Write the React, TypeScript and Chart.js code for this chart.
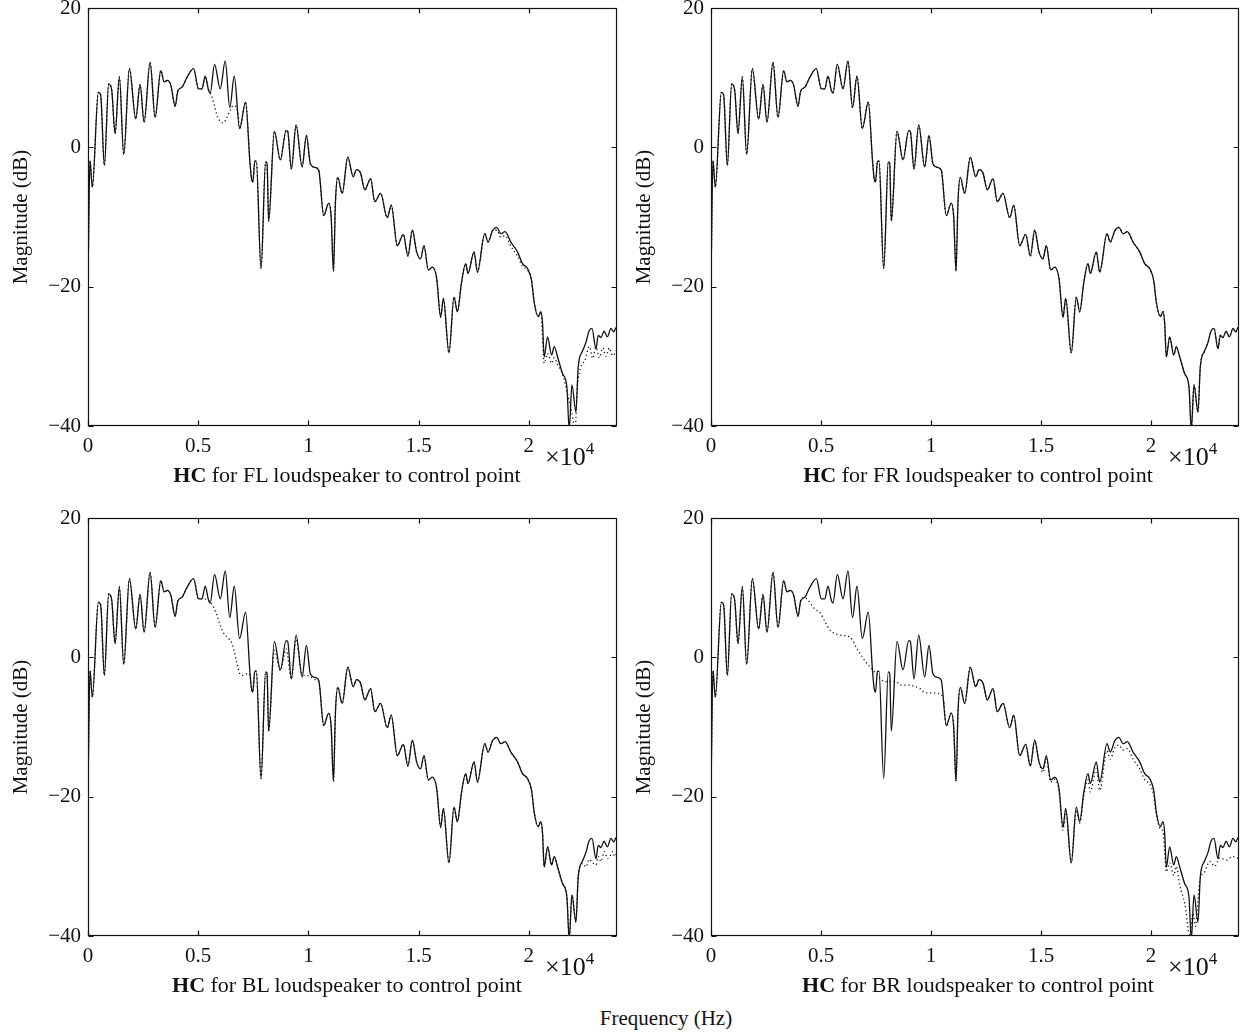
import React, { useEffect, useRef } from 'react';
import { Chart, registerables } from 'chart.js';

Chart.register(...registerables);

// Frequency (Hz) of the sampled points of the reference response
const freqHz = [
  0, 90, 195, 470, 575, 742, 939, 1076, 1227, 1424, 1621, 1879, 2167, 2364, 2545, 2818, 3045, 3303, 3455, 3606,
  3758, 3955, 4076, 4258, 4485, 4788, 5014, 5168, 5318, 5468, 5545, 5741, 6000, 6227, 6432, 6636, 6877, 7150, 7341, 7409,
  7477, 7568, 7636, 7850, 8059, 8123, 8195, 8455, 8727, 8986, 9059, 9227, 9441, 9714, 9909, 10091, 10318, 10468, 10695, 10923,
  11032, 11136, 11227, 11332, 11532, 11786, 12032, 12182, 12364, 12559, 12818, 13014, 13273, 13577, 13759, 14032, 14305, 14514, 14714, 14909,
  15091, 15241, 15441, 15623, 15818, 16000, 16123, 16377, 16605, 16759, 16941, 17136, 17241, 17514, 17668, 18000, 18150, 18350, 18545, 18727,
  18923, 19182, 19486, 19714, 19941, 20123, 20241, 20423, 20545, 20623, 20695, 20850, 21032, 21150, 21305, 21532, 21727, 21832, 21955, 22136,
  22241, 22441, 22591, 22727, 22864, 23045, 23150, 23273, 23409, 23564, 23727, 23850, 23955, 24000,
];

// Solid curve magnitude (dB), same in all four panels
const solidDb = [
  -19.0, -1.9, -5.7, 7.9, 7.5, -2.6, 9.1, 8.2, 2.0, 10.1, -1.0, 11.3, 4.1, 9.0, 3.6, 12.2, 4.3, 11.0, 9.4, 9.6,
  8.9, 5.9, 8.1, 8.6, 10.0, 11.3, 8.4, 8.4, 10.2, 8.2, 7.8, 11.9, 8.4, 12.4, 5.7, 10.2, 2.7, 6.5, -1.9, -4.3,
  -5.0, -2.0, -2.0, -17.4, -2.1, -2.3, -10.6, 2.3, -1.8, 2.4, 2.3, -3.1, 3.2, -2.8, 1.7, -2.4, -2.9, -3.3, -9.8, -8.0,
  -10.0, -17.8, -7.8, -4.3, -6.6, -1.4, -4.2, -3.2, -3.7, -6.1, -4.5, -7.8, -6.6, -10.1, -8.3, -14.1, -12.5, -15.6, -11.9, -15.0,
  -16.0, -14.1, -17.6, -17.2, -18.8, -24.4, -21.7, -29.5, -21.5, -23.6, -19.5, -16.7, -18.1, -15.0, -17.9, -12.4, -13.6, -12.0, -11.5, -12.4,
  -12.1, -13.6, -15.0, -16.7, -17.4, -19.1, -22.2, -24.3, -23.6, -25.3, -30.1, -27.2, -29.8, -28.6, -30.1, -32.5, -34.4, -40.5, -34.1, -38.0,
  -31.5, -29.2, -28.0, -26.4, -26.0, -28.9, -27.0, -27.3, -26.4, -27.2, -26.0, -26.5, -25.9, -26.5,
];

// Dotted curve: segments [freq, dB] where it departs from the solid one
const flDotted: [number, number][][] = [
  [[5545, 7.8], [5697, 6.5], [5773, 5.5], [5850, 4.6], [5955, 3.9], [6150, 3.5], [6300, 4.3], [6450, 5.3], [6600, 6.0], [6800, 5.1]],
  [[18350, -12.0], [18545, -11.9], [18727, -12.9], [18923, -12.7], [19182, -14.2], [19486, -15.6], [19714, -17.1], [19941, -17.6]],
  [[20545, -23.6], [20695, -31.0], [20850, -29.6], [21032, -31.0], [21150, -30.2], [21305, -31.2], [21532, -32.6], [21750, -35.3],
   [21960, -38.2], [22100, -40.5], [22200, -34.4], [22360, -31.5], [22550, -30.6], [22740, -28.6], [22900, -30.3], [23050, -28.7],
   [23200, -30.2], [23350, -28.8], [23500, -30.0], [23650, -28.8], [23800, -29.9], [24000, -29.0]],
];
const frDotted: [number, number][][] = [];
const blDotted: [number, number][][] = [
  [[5168, 8.4], [5468, 8.2], [5697, 7.2], [5850, 6.0], [6000, 4.6], [6150, 3.5], [6380, 2.7], [6530, 2.0], [6636, 0.8],
   [6760, -0.9], [6877, -2.3], [7060, -2.6], [7260, -2.3], [7380, -3.2]],
  [[8195, -10.6], [8455, 1.0], [8727, -1.9], [8986, 1.2], [9227, -3.1], [9441, 2.6], [9714, -2.4], [9909, -2.6], [10091, -2.8],
   [10318, -3.2], [10468, -3.5], [10695, -9.8]],
  [[22241, -31.5], [22441, -29.6], [22591, -30.1], [22727, -29.0], [22864, -29.4], [23045, -29.8], [23150, -28.6], [23273, -29.3],
   [23423, -27.9], [23577, -28.9], [23727, -28.3], [23800, -27.9], [23900, -28.6], [24000, -28.1]],
];
const brDotted: [number, number][][] = [
  [[4258, 8.6], [4409, 8.2], [4700, 7.0], [4955, 6.4], [5200, 5.0], [5409, 3.9], [5864, 3.2], [6318, 2.9], [6682, 1.0], [7045, -0.7],
   [7455, -2.1], [7909, -3.5], [8364, -3.4], [8668, -4.0], [8968, -4.0], [9500, -4.5], [9727, -5.1], [10032, -5.1], [10332, -5.2], [10560, -5.9]],
  [[14909, -15.0], [15091, -16.5], [15241, -14.6], [15441, -17.9], [15623, -17.5], [15818, -19.2], [16000, -24.8], [16123, -22.0],
   [16377, -29.5], [16605, -21.9], [16759, -23.8], [16941, -19.9], [17136, -17.6], [17241, -19.3], [17514, -16.0], [17668, -19.1],
   [18000, -13.4], [18150, -14.6], [18350, -13.0], [18545, -12.6], [18727, -13.3], [18923, -13.1], [19182, -14.6], [19486, -16.0],
   [19714, -17.6], [19941, -18.2], [20123, -19.8], [20241, -22.6]],
  [[20423, -24.6], [20545, -25.0], [20695, -30.8], [20850, -29.5], [21032, -31.3], [21150, -30.0], [21305, -32.7], [21532, -35.3],
   [21760, -39.8], [21909, -36.7], [22014, -38.6], [22214, -32.2], [22441, -30.8], [22668, -29.3], [22895, -30.0], [23123, -28.8],
   [23423, -29.1], [23727, -28.6], [24000, -28.9]],
];

const xTickValues = [0, 5000, 10000, 15000, 20000];
const yTickValues = [-40, -20, 0, 20];
const speakerLabels = ['FL', 'FR', 'BL', 'BR'];

const FONT = '"Liberation Serif", "Times New Roman", serif';
const INK = '#111';

function dottedSeries(segments: [number, number][][]) {
  const inSeg = (f: number) => segments.some((s) => f >= s[0][0] && f <= s[s.length - 1][0]);
  const pts: { x: number; y: number }[] = [];
  freqHz.forEach((f, i) => {
    if (!inSeg(f)) pts.push({ x: f, y: solidDb[i] });
  });
  segments.forEach((s) => s.forEach(([f, v]) => pts.push({ x: f, y: v })));
  pts.sort((a, b) => a.x - b.x);
  return pts;
}

const boxPlugin = {
  id: 'matlabBox',
  afterDraw(chart: any) {
    const { ctx, chartArea: a, scales } = chart;
    ctx.save();
    ctx.strokeStyle = INK;
    ctx.lineWidth = 1.2;
    const l = Math.round(a.left) + 0.5;
    const r = Math.round(a.right) - 0.5;
    const t = Math.round(a.top) + 0.5;
    const b = Math.round(a.bottom) - 0.5;
    ctx.strokeRect(l, t, r - l, b - t);
    const L = 5;
    ctx.beginPath();
    xTickValues.forEach((v) => {
      const px = Math.round(scales.x.getPixelForValue(v)) + 0.5;
      ctx.moveTo(px, b);
      ctx.lineTo(px, b - L);
      ctx.moveTo(px, t);
      ctx.lineTo(px, t + L);
    });
    yTickValues.forEach((v) => {
      const py = Math.round(scales.y.getPixelForValue(v)) + 0.5;
      ctx.moveTo(l, py);
      ctx.lineTo(l + L, py);
      ctx.moveTo(r, py);
      ctx.lineTo(r - L, py);
    });
    ctx.stroke();
    ctx.restore();
  },
};

function Panel({ left, top, dotted, padRight }: { left: number; top: number; dotted: [number, number][][]; padRight: number }) {
  const ref = useRef<HTMLCanvasElement>(null);
  useEffect(() => {
    if (!ref.current) return;
    const solidPts = freqHz.map((f, i) => ({ x: f, y: solidDb[i] }));
    const dotPts = dottedSeries(dotted);
    const chart = new Chart(ref.current, {
      type: 'line',
      data: {
        datasets: [
          { data: solidPts, borderColor: INK, borderWidth: 1.3, pointRadius: 0, cubicInterpolationMode: 'monotone', fill: false },
          { data: dotPts, borderColor: INK, borderWidth: 1.3, borderDash: [1.2, 2.8], pointRadius: 0, cubicInterpolationMode: 'monotone', fill: false },
        ],
      },
      options: {
        animation: false,
        responsive: false,
        maintainAspectRatio: false,
        events: [],
        layout: { padding: { top: 8, right: padRight, bottom: 0, left: 0 } },
        plugins: { legend: { display: false }, tooltip: { enabled: false } },
        scales: {
          x: {
            type: 'linear',
            min: 0,
            max: 24000,
            grid: { display: false, drawTicks: false },
            border: { display: false },
            afterBuildTicks: (s: any) => {
              s.ticks = xTickValues.map((v) => ({ value: v }));
            },
            afterFit: (s: any) => {
              s.height = 44;
              s.paddingLeft = 0;
              s.paddingRight = 0;
            },
            ticks: {
              padding: 8,
              maxRotation: 0,
              autoSkip: false,
              color: INK,
              font: { family: FONT, size: 21 },
              callback: (v: any) => String(Number(v) / 10000),
            },
          },
          y: {
            type: 'linear',
            min: -40,
            max: 20,
            grid: { display: false, drawTicks: false },
            border: { display: false },
            afterBuildTicks: (s: any) => {
              s.ticks = yTickValues.map((v) => ({ value: v }));
            },
            afterFit: (s: any) => {
              s.width = 88;
              s.paddingTop = 0;
              s.paddingBottom = 0;
            },
            ticks: {
              padding: 7,
              color: INK,
              font: { family: FONT, size: 21 },
              callback: (v: any) => (Number(v) < 0 ? '\u2212' + Math.abs(Number(v)) : String(v)),
            },
            title: {
              display: true,
              text: 'Magnitude (dB)',
              color: INK,
              font: { family: FONT, size: 21 },
              padding: { top: 9, bottom: 0 },
            },
          },
        },
      },
      plugins: [boxPlugin],
    } as any);
    return () => chart.destroy();
  }, []);
  return (
    <canvas
      ref={ref}
      width={625}
      height={470}
      style={{ position: 'absolute', left, top, width: 625, height: 470 }}
    />
  );
}

const panels = [
  { left: 0, top: 0, dotted: flDotted, padRight: 8, captionX: 347, label: speakerLabels[0] },
  { left: 623, top: 0, dotted: frDotted, padRight: 9, captionX: 355, label: speakerLabels[1] },
  { left: 0, top: 510, dotted: blDotted, padRight: 8, captionX: 347, label: speakerLabels[2] },
  { left: 623, top: 510, dotted: brDotted, padRight: 9, captionX: 355, label: speakerLabels[3] },
];

export default function App() {
  return (
    <div
      style={{
        position: 'absolute',
        left: 0,
        top: 0,
        width: 1242,
        height: 1035,
        background: '#fff',
        fontFamily: FONT,
        color: INK,
        overflow: 'hidden',
      }}
    >
      {panels.map((p, i) => (
        <React.Fragment key={i}>
          <Panel left={p.left} top={p.top} dotted={p.dotted} padRight={p.padRight} />
          <div
            style={{
              position: 'absolute',
              left: p.left + p.captionX,
              top: p.top + 464,
              transform: 'translateX(-50%)',
              whiteSpace: 'nowrap',
              fontSize: 22,
              lineHeight: '22px',
            }}
          >
            <b>HC</b> for {p.label} loudspeaker to control point
          </div>
          <div
            style={{
              position: 'absolute',
              left: p.left + 545,
              top: p.top + 444,
              whiteSpace: 'nowrap',
              fontSize: 26,
              lineHeight: '26px',
            }}
          >
            {'\u00d710'}
            <span style={{ fontSize: 17, position: 'relative', top: -11 }}>4</span>
          </div>
        </React.Fragment>
      ))}
      <div
        style={{
          position: 'absolute',
          left: 666,
          top: 1008,
          transform: 'translateX(-50%)',
          whiteSpace: 'nowrap',
          fontSize: 21,
          lineHeight: '21px',
        }}
      >
        Frequency (Hz)
      </div>
    </div>
  );
}
